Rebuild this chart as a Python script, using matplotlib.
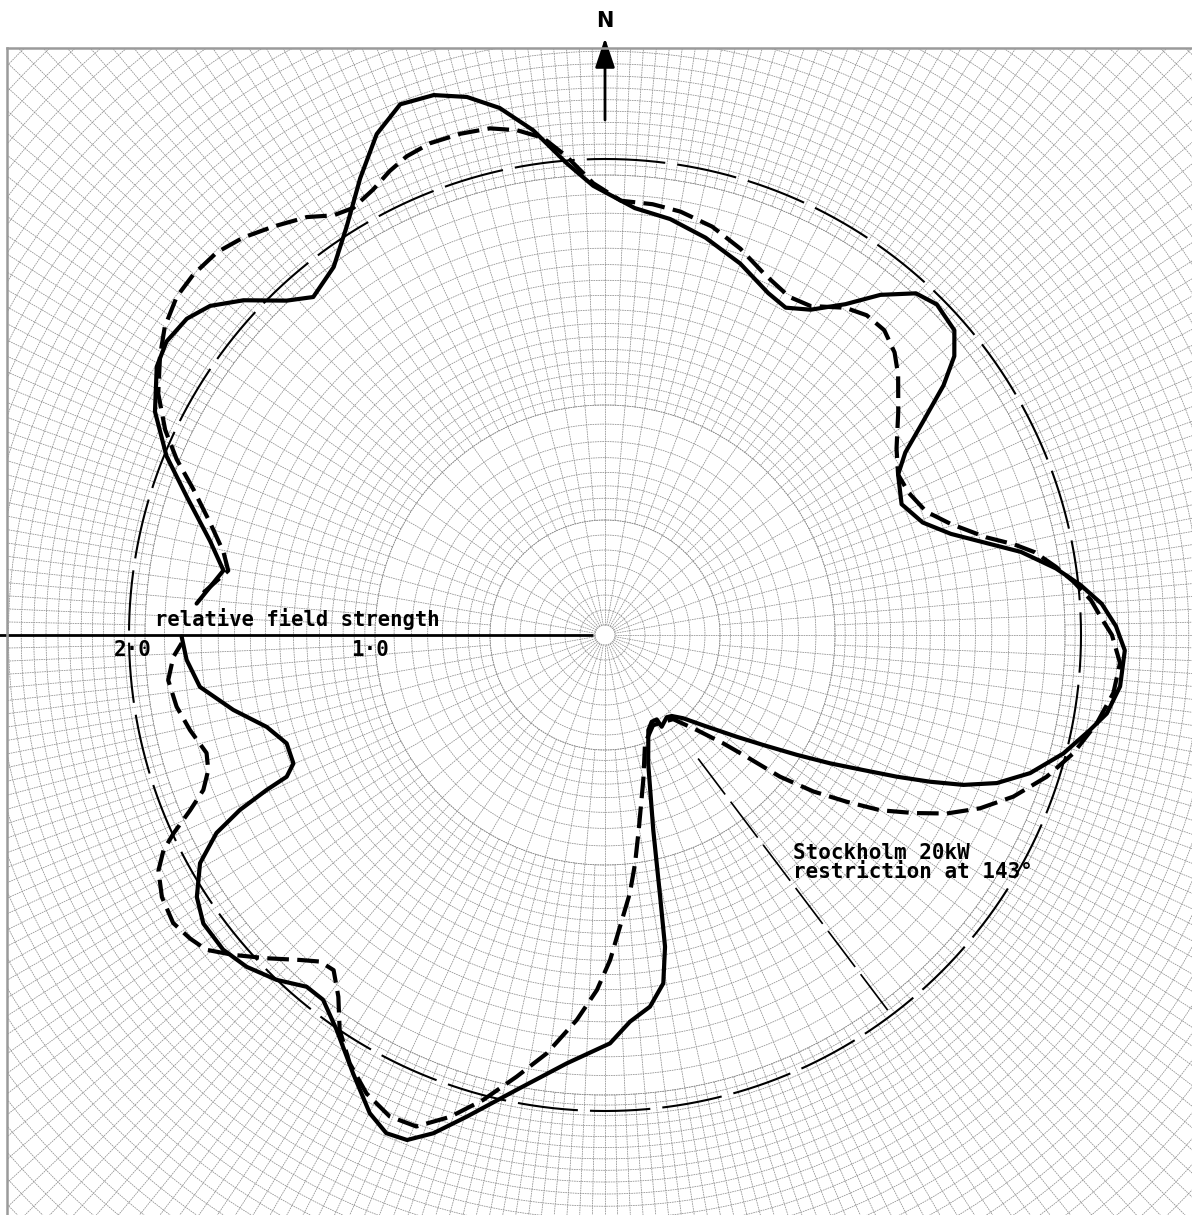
import numpy as np
import matplotlib
matplotlib.use("Agg")
import matplotlib.pyplot as plt
from matplotlib.lines import Line2D

# Relative field strength against bearing (degrees clockwise from north).
# The short break between 269.8 and 274.4 deg leaves room for the scale label.
solid_bearing = [274.4, 279.6, 283.4, 288.3, 292.2, 296.4, 300.9, 303.8, 307.1, 309.8,
                 312.8, 316.4, 319.2, 323.6, 327.7, 331.8, 335.5, 338.9, 342.4, 345.6,
                 348.7, 351.9, 355.4, 358.5, 4.0, 8.9, 14.2, 20.0, 25.5, 28.9,
                 32.3, 36.0, 39.0, 42.3, 45.1, 48.9, 51.4, 53.6, 56.2, 58.7,
                 61.3, 66.2, 70.5, 73.7, 76.4, 78.7, 81.6, 84.0, 86.4, 89.0,
                 91.7, 95.7, 98.9, 101.1, 104.5, 108.0, 110.7, 112.7, 114.3, 115.9,
                 117.6, 119.7, 122.0, 124.8, 127.7, 132.0, 136.8, 140.5, 143.1, 148.3,
                 148.5, 151.7, 155.5, 161.4, 166.1, 168.1, 169.1, 170.5, 173.1, 176.3,
                 179.3, 185.1, 191.0, 196.0, 199.0, 201.4, 203.7, 206.2, 209.9, 214.2,
                 217.7, 220.3, 223.6, 227.2, 230.5, 234.3, 237.3, 240.6, 243.0, 244.4,
                 245.4, 246.0, 247.6, 251.2, 254.8, 258.6, 262.7, 266.6, 269.8]
solid_field = [1.721, 1.626, 1.706, 1.851, 1.990, 2.111, 2.195, 2.217, 2.203, 2.160,
               2.070, 1.940, 1.876, 1.921, 2.031, 2.177, 2.313, 2.390, 2.380, 2.334,
               2.258, 2.142, 1.987, 1.888, 1.798, 1.769, 1.722, 1.661, 1.592, 1.571,
               1.617, 1.718, 1.839, 1.941, 1.968, 1.948, 1.878, 1.767, 1.606, 1.477,
               1.404, 1.362, 1.416, 1.514, 1.646, 1.782, 1.915, 2.009, 2.091, 2.147,
               2.185, 2.175, 2.134, 2.076, 1.989, 1.878, 1.760, 1.632, 1.498, 1.363,
               1.225, 1.088, 0.950, 0.810, 0.699, 0.575, 0.480, 0.441, 0.432, 0.453,
               0.416, 0.414, 0.439, 0.569, 0.844, 1.124, 1.334, 1.484, 1.573, 1.628,
               1.716, 1.807, 1.947, 2.105, 2.214, 2.279, 2.286, 2.239, 2.124, 2.006,
               1.937, 1.938, 2.001, 2.052, 2.079, 2.078, 2.038, 1.953, 1.832, 1.701,
               1.563, 1.464, 1.416, 1.413, 1.473, 1.593, 1.716, 1.761, 1.779]

dashed_bearing = [276.0, 279.7, 282.3, 285.9, 289.5, 292.3, 295.0, 298.4, 302.1, 305.0,
                  308.3, 311.2, 314.6, 317.7, 320.9, 324.5, 327.1, 329.5, 332.5, 335.1,
                  337.5, 340.4, 343.9, 347.2, 350.1, 352.9, 355.4, 358.5, 2.1, 6.3,
                  10.1, 14.7, 19.3, 23.9, 28.6, 32.0, 36.3, 39.3, 42.5, 45.7,
                  48.4, 52.7, 57.4, 61.3, 64.9, 69.0, 72.2, 75.6, 77.5, 79.1,
                  81.4, 83.5, 85.9, 88.1, 90.0, 93.1, 96.5, 100.2, 104.2, 107.8,
                  111.6, 114.8, 117.6, 120.0, 122.5, 124.6, 126.9, 129.0, 130.7, 132.5,
                  136.0, 141.0, 146.0, 152.0, 159.7, 165.2, 170.2, 172.5, 174.5, 179.1,
                  181.3, 184.2, 187.9, 191.3, 194.7, 197.8, 201.0, 204.1, 207.5, 210.8,
                  213.9, 216.4, 219.0, 221.1, 223.2, 226.3, 229.3, 231.7, 233.8, 236.3,
                  239.4, 242.2, 244.0, 245.3, 247.1, 248.9, 251.2, 253.5, 257.1, 260.5,
                  264.1, 267.1, 268.9]
dashed_field = [1.697, 1.606, 1.641, 1.726, 1.835, 1.945, 2.039, 2.134, 2.207, 2.258,
                2.293, 2.299, 2.290, 2.258, 2.211, 2.157, 2.100, 2.083, 2.110, 2.149,
                2.177, 2.193, 2.192, 2.183, 2.153, 2.105, 2.018, 1.899, 1.826, 1.821,
                1.807, 1.774, 1.720, 1.657, 1.618, 1.630, 1.706, 1.736, 1.737, 1.700,
                1.647, 1.549, 1.454, 1.404, 1.409, 1.446, 1.526, 1.652, 1.760, 1.839,
                1.916, 1.981, 2.047, 2.088, 2.130, 2.167, 2.150, 2.099, 2.029, 1.949,
                1.845, 1.736, 1.619, 1.496, 1.370, 1.234, 1.095, 0.946, 0.785, 0.674,
                0.555, 0.455, 0.440, 0.430, 0.485, 0.630, 0.832, 0.968, 1.090, 1.366,
                1.492, 1.622, 1.774, 1.892, 2.020, 2.126, 2.212, 2.216, 2.171, 2.095,
                1.999, 1.888, 1.812, 1.821, 1.873, 1.966, 2.061, 2.134, 2.160, 2.181,
                2.163, 2.121, 2.064, 1.996, 1.892, 1.809, 1.761, 1.746, 1.789, 1.825,
                1.845, 1.816, 1.779]

reference_field = 2.0
restriction_bearing = 143
restriction_span = [0.65, 2.0]
scale_values = [1.0, 2.0]
scale_labels = ["1·0", "2·0"]
scale_bearing = 270
axis_title = "relative field strength"
restriction_note = f"Stockholm 20kW\nrestriction at {restriction_bearing}°"

# ---------------------------------------------------------------- layout
W, H = 1192, 1215
PX_PER_UNIT = 238.0
CX, CY = 605.0, 635.0          # pole position, pixels from top-left
R_PX = 900.0                   # polar axes radius in pixels
PAPER_LEFT, PAPER_TOP = 7.0, 48.0

fig = plt.figure(figsize=(W / 100, H / 100), dpi=100)
fig.patch.set_facecolor("white")
ax = fig.add_axes([(CX - R_PX) / W, (H - CY - R_PX) / H, 2 * R_PX / W, 2 * R_PX / H],
                  projection="polar")
ax.set_theta_zero_location("N")
ax.set_theta_direction(-1)
ax.set_rlim(0, R_PX / PX_PER_UNIT)
ax.set_axis_off()

MONO = "DejaVu Sans Mono"

# edge of the printed chart paper (top and left only; the rest runs off the page)
x0, y1 = PAPER_LEFT / W, 1 - PAPER_TOP / H
for xs, ys in (([x0, 1.0], [y1, y1]), ([x0, x0], [0.0, y1])):
    fig.add_artist(Line2D(xs, ys, transform=fig.transFigure, color="#9a9a9a",
                          lw=1.8, zorder=0.5))

from matplotlib.patches import Rectangle
paper = Rectangle((x0, -0.1), 1.2, y1 + 0.1, transform=fig.transFigure,
                  fill=False, lw=0)

# ---------------------------------------------------------------- polar paper grid
def px(v):
    return v / PX_PER_UNIT

grid_color = "#8e8e8e"
grid_ls = (0, (2.2, 1.0))
full_turn = np.linspace(0, 2 * np.pi, 1441)
grid_artists = []

# zones: (inner px, outer px, radial step deg, ring radii px)
zones = [
    (10, 115, 10.0, [10 + 15 * k for k in range(8)]),
    (115, 230, 5.0, [115 * 2 ** (k / 8) for k in range(9)]),
    (230, 460, 2.5, [230 * 2 ** (k / 16) for k in range(17)]),
    (460, 920, 1.25, [460 * 2 ** (k / 32) for k in range(33)]),
]
for r_in, r_out, step, rings in zones:
    th = np.radians(np.arange(0, 360, step))
    vl = ax.vlines(th, px(r_in), px(r_out), colors=grid_color, linewidths=0.55,
                   linestyles=[grid_ls], zorder=1)
    grid_artists.append(vl)
    for rr in rings:
        ln, = ax.plot(full_turn, np.full_like(full_turn, px(rr)), color=grid_color,
                      lw=0.55, ls=grid_ls, zorder=1)
        grid_artists.append(ln)
for art in grid_artists:
    art.set_clip_path(paper)

# ---------------------------------------------------------------- reference circle and restriction
ax.plot(full_turn, np.full_like(full_turn, reference_field), color="black", lw=1.5,
        ls=(0, (29, 5.8)), zorder=3)
ax.plot(np.radians([restriction_bearing, restriction_bearing]), restriction_span,
        color="black", lw=1.2, ls=(0, (27, 5.4)), zorder=3)

# ---------------------------------------------------------------- field-strength traces
def unwrap(b):
    return np.unwrap(np.radians(np.asarray(b, dtype=float)))

ax.plot(unwrap(solid_bearing), solid_field, color="black", lw=3.0,
        solid_joinstyle="round", solid_capstyle="round", zorder=5)
ax.plot(unwrap(dashed_bearing), dashed_field, color="black", lw=3.0,
        ls=(0, (5.2, 2.0)), dash_joinstyle="round", zorder=5)

# ---------------------------------------------------------------- scale axis and labels
ax.plot(np.radians([scale_bearing, scale_bearing]), [px(12), px(640)], color="black",
        lw=2.0, solid_capstyle="butt", zorder=6)
for val, lab in zip(scale_values, scale_labels):
    ax.annotate(lab, xy=(np.radians(scale_bearing), val), xytext=(2.5, -11),
                textcoords="offset points", ha="center", va="center",
                fontsize=15, family=MONO, fontweight="bold", zorder=7)
ax.annotate(axis_title, xy=(np.radians(scale_bearing), 1.89), xytext=(0, 6.5),
            textcoords="offset points", ha="left", va="baseline",
            fontsize=14.8, family=MONO, fontweight="bold", zorder=7)

ax.text(np.radians(137.9), 1.178, restriction_note, ha="left", va="top",
        fontsize=15, family=MONO, fontweight="bold", linespacing=0.95, zorder=7)

# north arrow
ax.annotate("", xy=(0, px(597)), xytext=(0, px(515)),
            arrowprops=dict(arrowstyle="-|>,head_length=0.9,head_width=0.3",
                            color="black", lw=2.0, shrinkA=0, shrinkB=0,
                            mutation_scale=20), zorder=7)
ax.text(0, px(614), "N", ha="center", va="center", fontsize=15, fontweight="bold",
        family="DejaVu Sans", zorder=7)

fig.savefig("out.png", dpi=100, facecolor="white")
